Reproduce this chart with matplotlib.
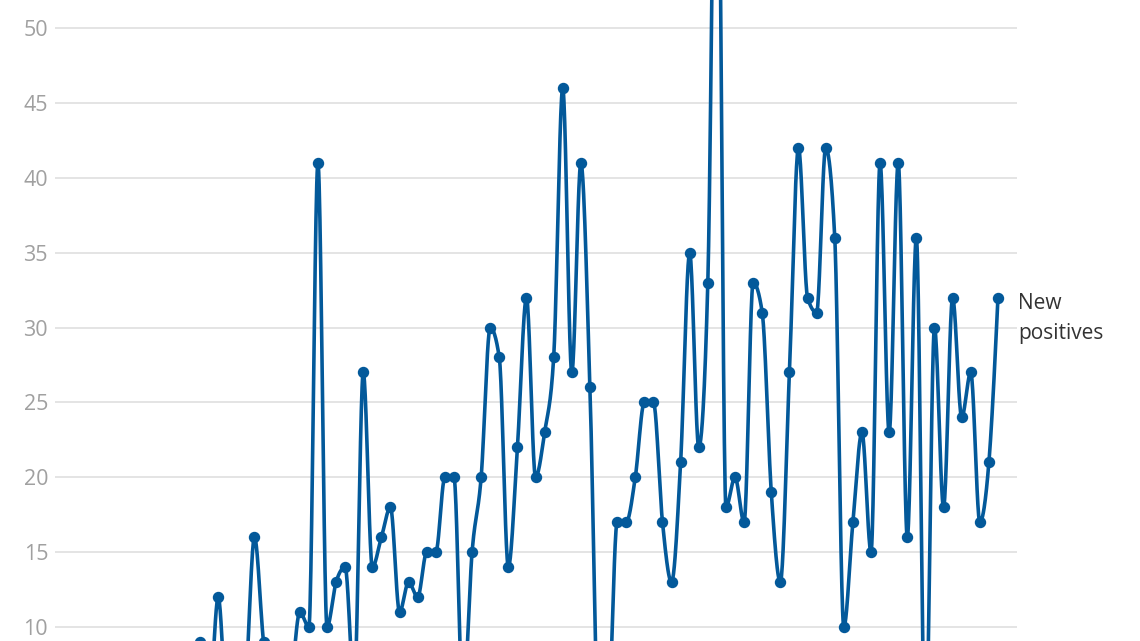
import numpy as np
import matplotlib.pyplot as plt

# daily new positives (values below ~9 and the one spike above ~52 fall outside the crop)
early = [2, 1, 3, 2, 1, 4, 3, 2, 5, 3, 4, 6, 3, 5, 4, 6]
new_positives = early + [
    9, 5, 12, 4, 3, 6, 16, 9, 5, 3, 6, 11, 10, 41, 10, 13, 14, 6,
    27, 14, 16, 18, 11, 13, 12, 15, 15, 20, 20, 5, 15, 20, 30, 28, 14, 22,
    32, 20, 23, 28, 46, 27, 41, 26, 3, 4, 17, 17, 20, 25, 25, 17, 13, 21,
    35, 22, 33, 72, 18, 20, 17, 33, 31, 19, 13, 27, 42, 32, 31, 42, 36, 10,
    17, 23, 15, 41, 23, 41, 16, 36, 2, 30, 18, 32, 24, 27, 17, 21, 32,
]
yticks = [10, 15, 20, 25, 30, 35, 40, 45, 50]
label = "New\npositives"

LINE = "#03599a"


def monotone_x(x, y, steps=24):
    # same smoothing as d3.curveMonotoneX
    x = np.asarray(x, float)
    y = np.asarray(y, float)
    h = np.diff(x)
    s = np.diff(y) / h
    t = np.zeros_like(y)
    for i in range(1, len(y) - 1):
        p = (s[i - 1] * h[i] + s[i] * h[i - 1]) / (h[i - 1] + h[i])
        t[i] = (np.sign(s[i - 1]) + np.sign(s[i])) * min(abs(s[i - 1]), abs(s[i]), 0.5 * abs(p))
    t[0] = (3 * s[0] - t[1]) / 2
    t[-1] = (3 * s[-1] - t[-2]) / 2
    xs, ys = [], []
    u = np.linspace(0, 1, steps)
    for i in range(len(y) - 1):
        h00 = 2 * u**3 - 3 * u**2 + 1
        h10 = u**3 - 2 * u**2 + u
        h01 = -2 * u**3 + 3 * u**2
        h11 = u**3 - u**2
        xs.append(x[i] + u * h[i])
        ys.append(h00 * y[i] + h10 * h[i] * t[i] + h01 * y[i + 1] + h11 * h[i] * t[i + 1])
    return np.concatenate(xs), np.concatenate(ys)


plt.rcParams['font.family'] = ['Open Sans', 'DejaVu Sans']

fig = plt.figure(figsize=(11.4, 6.41), dpi=100)
ax = fig.add_axes([55 / 1140, 0, (1017 - 55) / 1140, 1])

days = np.arange(len(new_positives))
cx, cy = monotone_x(days, new_positives)
ax.plot(cx, cy, color=LINE, lw=2.6, solid_joinstyle='round', zorder=3)
ax.plot(days, new_positives, 'o', color=LINE, ms=7.2, zorder=4)

ax.set_xlim(0, 106.1)
ax.set_ylim(9.07, 51.87)
ax.set_yticks(yticks)
ax.set_xticks([])
ax.yaxis.grid(True, color='#e2e2e2', lw=1.3)
ax.set_axisbelow(True)
ax.tick_params(axis='y', length=0, pad=5, labelsize=15.5, labelcolor='#a0a0a0')
for sp in ax.spines.values():
    sp.set_visible(False)

ax.annotate(label, xy=(days[-1], new_positives[-1]), xytext=(20, -21),
            textcoords='offset pixels', ha='left', va='center',
            fontsize=15, color='#333333', linespacing=1.55,
            annotation_clip=False)

fig.savefig('out.png', dpi=100)
